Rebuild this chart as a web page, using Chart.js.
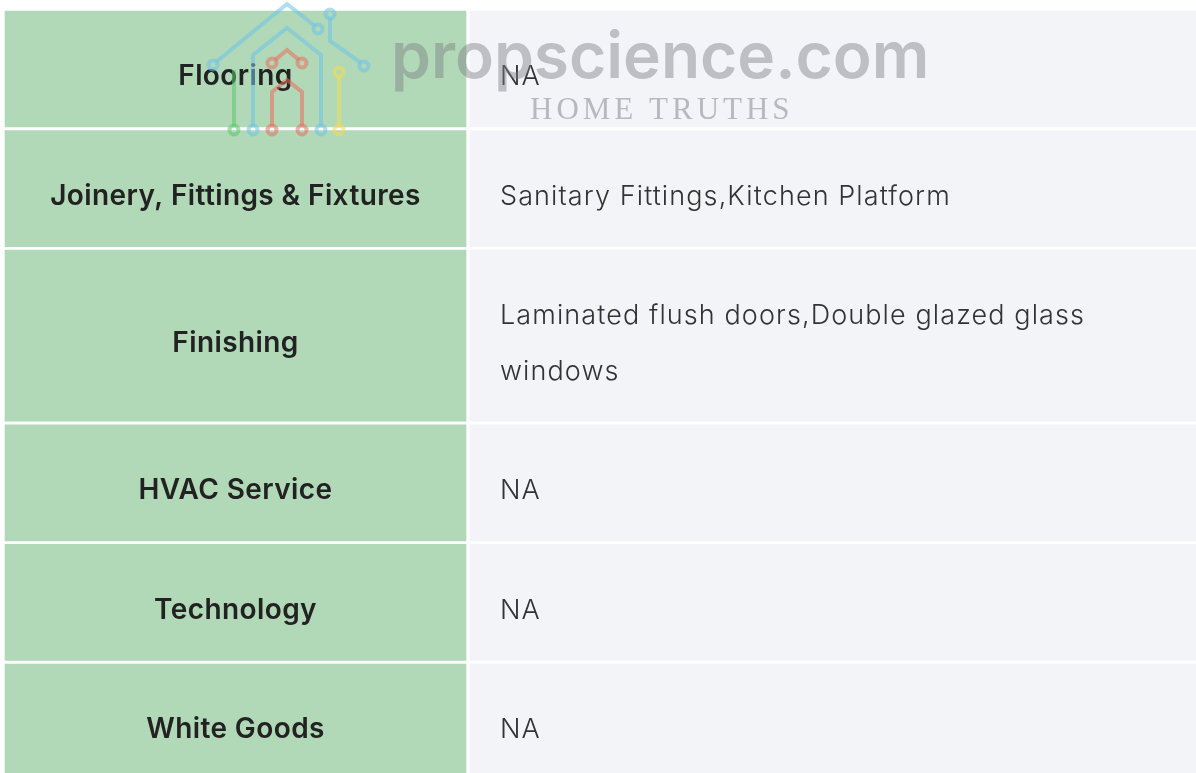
<!DOCTYPE html>
<html>
<head>
<meta charset="utf-8">
<script src="https://cdn.jsdelivr.net/npm/chart.js@4.4.1/dist/chart.umd.min.js"></script>
<style>
  html, body { margin: 0; padding: 0; background: #ffffff; }
  #wrap { width: 1196px; height: 773px; position: relative; }
</style>
</head>
<body>
<div id="wrap"><canvas id="myChart"></canvas></div>
<script>
// table content
var rowLabels = ['Flooring', 'Joinery, Fittings & Fixtures', 'Finishing', 'HVAC Service', 'Technology', 'White Goods'];
var rowValues = [
    ['NA'],
    ['Sanitary Fittings,Kitchen Platform'],
    ['Laminated flush doors,Double glazed glass', 'windows'],
    ['NA'],
    ['NA'],
    ['NA']
];

// layout (pixels, scales map 1:1)
var tableTop = 11;
var rowBase = 116;
var lineExtra = 55;
var rowGap = 3.6;
var leftCol = [5, 466];
var rightCol = [470, 1200];

var rows = [];
var cursor = tableTop;
rowLabels.forEach(function (label, i) {
    var h = rowBase + (rowValues[i].length - 1) * lineExtra;
    rows.push({ top: cursor, bottom: cursor + h });
    cursor += h + rowGap;
});

function cellData(col) {
    return rows.map(function (r) {
        return { x: (col[0] + col[1]) / 2, y: [r.top, r.bottom] };
    });
}

var textPlugin = {
    id: 'cellText',
    afterDatasetsDraw: function (chart) {
        var ctx = chart.ctx;
        var xs = chart.scales.x, ys = chart.scales.y;
        ctx.save();
        ctx.textBaseline = 'middle';
        rows.forEach(function (r, i) {
            var cy = (ys.getPixelForValue(r.top) + ys.getPixelForValue(r.bottom)) / 2 + 8;
            ctx.fillStyle = '#222222';
            ctx.font = '600 28px Inter, "Open Sans", sans-serif';
            ctx.letterSpacing = '0.4px';
            ctx.textAlign = 'center';
            ctx.fillText(rowLabels[i], xs.getPixelForValue((leftCol[0] + leftCol[1]) / 2), cy);

            ctx.fillStyle = '#333333';
            ctx.font = '300 27px Inter, "Open Sans", sans-serif';
            ctx.letterSpacing = '1.1px';
            ctx.textAlign = 'left';
            var lines = rowValues[i];
            var lh = 56;
            var y0 = cy - (lines.length - 1) * lh / 2;
            lines.forEach(function (t, k) {
                ctx.fillText(t, xs.getPixelForValue(rightCol[0] + 30), y0 + k * lh);
            });
        });
        ctx.restore();
    }
};

// the site watermark sitting over the table
var watermarkPlugin = {
    id: 'watermark',
    afterDraw: function (chart) {
        var ctx = chart.ctx;
        ctx.save();
        ctx.lineWidth = 4;

        function ring(x, y, c) {
            ctx.strokeStyle = c;
            ctx.beginPath();
            ctx.arc(x, y, 4.5, 0, Math.PI * 2);
            ctx.stroke();
        }
        function path(pts, c) {
            ctx.strokeStyle = c;
            ctx.beginPath();
            ctx.moveTo(pts[0][0], pts[0][1]);
            for (var i = 1; i < pts.length; i++) ctx.lineTo(pts[i][0], pts[i][1]);
            ctx.stroke();
        }
        var teal = 'rgba(110, 195, 235, 0.55)';
        var red = 'rgba(235, 110, 95, 0.55)';
        var green = 'rgba(90, 200, 110, 0.55)';
        var yellow = 'rgba(240, 220, 90, 0.6)';

        // outer roof
        path([[216, 62], [287, 4], [315, 26]], teal);
        ring(213, 65, teal);
        ring(318, 29, teal);
        path([[330, 18], [330, 41], [361, 63]], teal);
        ring(330, 14, teal);
        ring(364, 66, teal);
        // inner house
        path([[253, 126], [253, 55], [287, 28], [321, 55], [321, 126]], teal);
        ring(253, 130, teal);
        ring(321, 130, teal);
        // red
        path([[275, 60], [287, 50], [299, 60]], red);
        ring(272, 63, red);
        ring(302, 63, red);
        path([[272, 126], [272, 92], [287, 80], [302, 92], [302, 126]], red);
        ring(272, 130, red);
        ring(302, 130, red);
        // green and yellow bars
        path([[234, 70], [234, 126]], green);
        ring(234, 130, green);
        path([[339, 77], [339, 126]], yellow);
        ring(339, 72, yellow);
        ring(339, 130, yellow);

        ctx.fillStyle = 'rgba(125, 126, 132, 0.45)';
        ctx.textBaseline = 'alphabetic';
        ctx.textAlign = 'left';
        ctx.font = '600 64px Inter, Roboto, sans-serif';
        ctx.fillText('propscience.com', 391, 78);
        ctx.fillStyle = 'rgba(125, 126, 132, 0.5)';
        ctx.font = '300 31px "Liberation Serif", serif';
        ctx.letterSpacing = '4px';
        ctx.fillText('HOME TRUTHS', 530, 119);
        ctx.restore();
    }
};

window.onload = function () {
    var ctx = document.getElementById('myChart').getContext('2d');
    var myChart = new Chart(ctx, {
        type: 'bar',
        data: {
            datasets: [{
                label: 'Item',
                data: cellData(leftCol),
                backgroundColor: '#b1d8b7',
                borderWidth: 0,
                barThickness: leftCol[1] - leftCol[0],
                grouped: false
            }, {
                label: 'Detail',
                data: cellData(rightCol),
                backgroundColor: '#f3f4f8',
                borderWidth: 0,
                barThickness: rightCol[1] - rightCol[0],
                grouped: false
            }]
        },
        options: {
            responsive: true,
            maintainAspectRatio: false,
            animation: false,
            layout: { padding: 0 },
            plugins: {
                legend: { display: false },
                tooltip: { enabled: false }
            },
            scales: {
                x: { type: 'linear', display: false, offset: false, min: 0, max: 1196 },
                y: { type: 'linear', display: false, min: 0, max: 773, reverse: true }
            }
        },
        plugins: [textPlugin, watermarkPlugin]
    });
};
</script>
</body>
</html>
